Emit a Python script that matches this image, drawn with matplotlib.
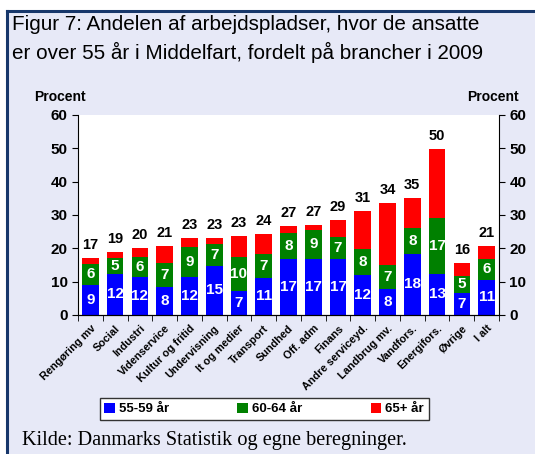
import numpy as np
import matplotlib.pyplot as plt
from matplotlib.patches import Rectangle
from matplotlib.lines import Line2D

brancher = ['Rengøring mv', 'Social', 'Industri', 'Videnservice', 'Kultur og fritid',
            'Undervisning', 'It og medier', 'Transport', 'Sundhed', 'Off. adm', 'Finans',
            'Andre serviceyd.', 'Landbrug mv.', 'Vandfors.', 'Energifors.', 'Øvrige', 'I alt']
# bar heights
aar_55_59 = [9.0, 12.3, 11.4, 8.5, 11.4, 14.7, 7.2, 11.1, 16.8, 16.8, 16.8, 12.0, 7.8, 18.4, 12.4, 6.6, 10.6]
aar_60_64 = [6.3, 4.7, 6.1, 7.2, 9.1, 6.6, 10.3, 7.2, 7.7, 8.8, 6.5, 7.8, 7.1, 7.8, 16.8, 5.2, 6.2]
aar_65 = [1.9, 2.0, 2.6, 5.0, 2.6, 1.8, 6.3, 6.0, 2.2, 1.4, 5.2, 11.4, 18.8, 9.0, 20.6, 3.9, 3.9]
# the printed labels
lbl_55_59 = [9, 12, 12, 8, 12, 15, 7, 11, 17, 17, 17, 12, 8, 18, 13, 7, 11]
lbl_60_64 = [6, 5, 6, 7, 9, 7, 10, 7, 8, 9, 7, 8, 7, 8, 17, 5, 6]
lbl_total = [17, 19, 20, 21, 23, 23, 23, 24, 27, 27, 29, 31, 34, 35, 50, 16, 21]

plt.rcParams['font.family'] = ['Liberation Sans', 'DejaVu Sans']
W, H = 535, 454
fig = plt.figure(figsize=(W / 100, H / 100), dpi=100)
fig.patch.set_facecolor('white')

# lavender panel with dark blue frame on left and top
bg = '#E7E9F7'
fig.patches.append(Rectangle((7 / W, 0), 1, 1 - 11 / H, transform=fig.transFigure,
                             facecolor=bg, edgecolor='none', zorder=-10))
fig.lines.append(Line2D([7 / W, 7 / W], [0, 1 - 11 / H], transform=fig.transFigure,
                        color='#17376B', lw=2.2))
fig.lines.append(Line2D([7 / W, 1], [1 - 11 / H, 1 - 11 / H], transform=fig.transFigure,
                        color='#17376B', lw=2.2))

fig.text(12 / W, 1 - 25 / H, 'Figur 7: Andelen af arbejdspladser, hvor de ansatte',
         fontsize=14.9, va='center')
fig.text(12 / W, 1 - 52 / H, 'er over 55 år i Middelfart, fordelt på brancher i 2009',
         fontsize=14.9, va='center')

ax = fig.add_axes([78 / W, 1 - 315 / H, 421 / W, 200 / H])
ax.set_facecolor('white')
x = np.arange(len(brancher))
b1 = np.array(aar_55_59)
b2 = np.array(aar_60_64)
b3 = np.array(aar_65)
w = 0.67
ax.bar(x, b1, w, color='#0000FF', label='55-59 år')
ax.bar(x, b2, w, bottom=b1, color='#008000', label='60-64 år')
ax.bar(x, b3, w, bottom=b1 + b2, color='#FF0000', label='65+ år')

for i in range(len(x)):
    ax.text(x[i], b1[i] / 2, str(lbl_55_59[i]), color='white', fontsize=11,
            fontweight='bold', ha='center', va='center')
    ax.text(x[i], b1[i] + b2[i] / 2, str(lbl_60_64[i]), color='white', fontsize=11,
            fontweight='bold', ha='center', va='center')
    ax.annotate(str(lbl_total[i]), (x[i], b1[i] + b2[i] + b3[i]), xytext=(0, 4),
                textcoords='offset points', ha='center', va='bottom',
                fontsize=10.5, fontweight='bold')

ax.set_xlim(-0.5, len(x) - 0.5)
ax.set_ylim(0, 60)
ax.set_yticks(range(0, 61, 10))
ax.tick_params(axis='y', labelsize=11, length=4, direction='out')
for t in ax.get_yticklabels():
    t.set_fontweight('bold')

ax.set_xticks(x)
ax.set_xticklabels(brancher, rotation=45, ha='right', rotation_mode='anchor',
                   fontsize=7.8, fontweight='bold')
ax.tick_params(axis='x', length=0, pad=6)
ax.set_xticks(np.arange(-0.5, len(x), 1), minor=True)
ax.tick_params(axis='x', which='minor', length=4, direction='out')
ax.spines['top'].set_visible(False)
ax.spines['right'].set_visible(False)

ax2 = ax.twinx()
ax2.set_ylim(0, 60)
ax2.set_yticks(range(0, 61, 10))
ax2.tick_params(axis='y', labelsize=11, length=4, direction='out')
for t in ax2.get_yticklabels():
    t.set_fontweight('bold')
ax2.spines['top'].set_visible(False)
ax2.spines['left'].set_visible(False)

fig.text(60 / W, 1 - 97 / H, 'Procent', fontsize=10, fontweight='bold', ha='center', va='center')
fig.text(493 / W, 1 - 97 / H, 'Procent', fontsize=10, fontweight='bold', ha='center', va='center')

leg = fig.legend(loc='center', bbox_to_anchor=(264 / W, 1 - 409 / H), ncol=3,
                 frameon=True, fancybox=False, edgecolor='#333333', framealpha=1,
                 prop={'weight': 'bold', 'size': 9.5}, handlelength=0.8, handleheight=0.8,
                 handletextpad=0.3, columnspacing=5.2, borderpad=0.35)
leg.get_frame().set_linewidth(1)

fig.text(22 / W, 1 - 440 / H, 'Kilde: Danmarks Statistik og egne beregninger.',
         family=['Liberation Serif', 'DejaVu Serif'], fontsize=14.6, va='center')

fig.savefig('out.png', dpi=100)
